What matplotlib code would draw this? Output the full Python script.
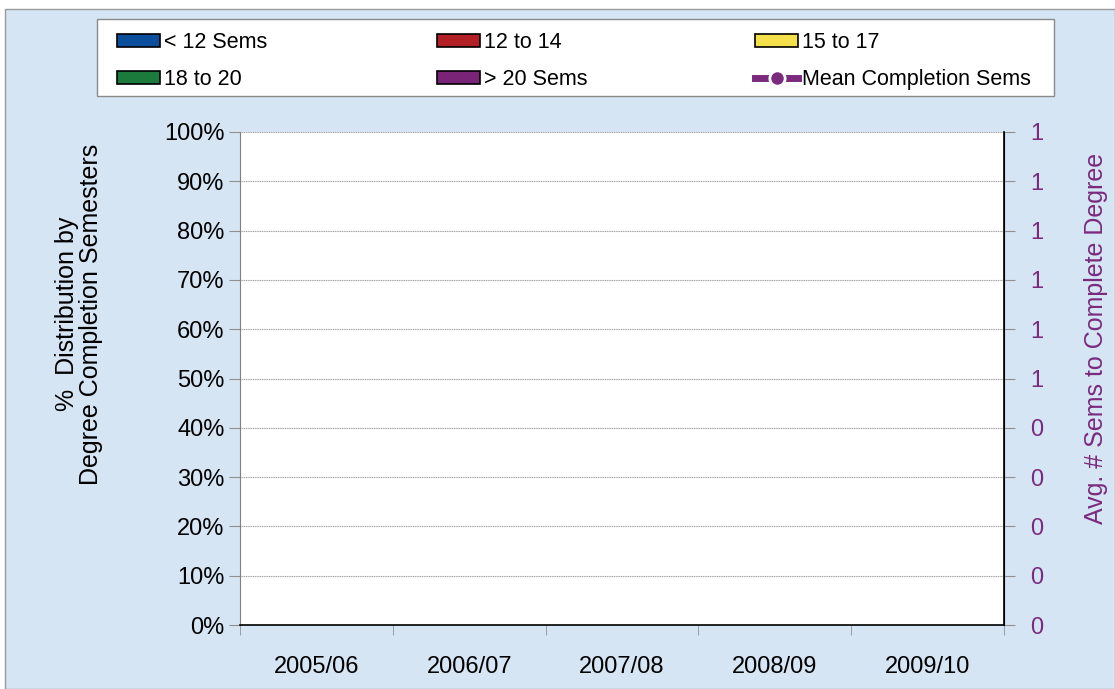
import numpy as np
import matplotlib
matplotlib.use("Agg")
import matplotlib.pyplot as plt
from matplotlib.patches import Patch, Rectangle
from matplotlib.lines import Line2D
from matplotlib.ticker import FixedLocator, FuncFormatter

plt.rcParams['font.family'] = ['Liberation Sans', 'DejaVu Sans']

# Data (the source chart has no values plotted)
years = ["2005/06", "2006/07", "2007/08", "2008/09", "2009/10"]
lt12 = [0, 0, 0, 0, 0]
s12_14 = [0, 0, 0, 0, 0]
s15_17 = [0, 0, 0, 0, 0]
s18_20 = [0, 0, 0, 0, 0]
gt20 = [0, 0, 0, 0, 0]
mean_sems = [np.nan, np.nan, np.nan, np.nan, np.nan]

series_names = ["< 12 Sems", "12 to 14", "15 to 17", "18 to 20", "> 20 Sems"]
series_colors = ["#0b4f9c", "#b21f24", "#f3e04a", "#1b7b3c", "#7a2478"]
line_color = "#7b2a7d"

W, H = 1115, 689
fig = plt.figure(figsize=(W / 100, H / 100), dpi=100)
fig.patch.set_facecolor("white")

# chart area background
fig.patches.append(Rectangle((5 / W, 0), 1 - 5 / W, 1 - 9 / H,
                             transform=fig.transFigure, facecolor="#d5e5f4",
                             edgecolor="#9a9a9a", linewidth=1.0, zorder=-10))

ax = fig.add_axes([240 / W, 64 / H, 764 / W, 493 / H])
ax.set_facecolor("white")

x = np.arange(len(years))
bottom = np.zeros(len(years))
for vals, col in zip([lt12, s12_14, s15_17, s18_20, gt20], series_colors):
    ax.bar(x, vals, width=0.6, bottom=bottom, color=col, linewidth=0)
    bottom += np.array(vals, dtype=float)

ax.set_xlim(-0.5, len(years) - 0.5)
ax.set_ylim(0, 1)
ax.yaxis.set_major_locator(FixedLocator(np.linspace(0, 1, 11)))
ax.yaxis.set_major_formatter(FuncFormatter(lambda v, p: f"{v * 100:.0f}%"))
ax.grid(axis="y", color="#a0a0a0", linewidth=0.8, linestyle=(0, (1, 0.6)))
ax.set_axisbelow(True)

ax.set_xticks(x)
ax.set_xticklabels(years)
ax.xaxis.set_minor_locator(FixedLocator(np.arange(-0.5, len(years), 1)))
ax.tick_params(axis="x", which="major", length=0, pad=22.5, labelsize=17)
ax.tick_params(axis="x", which="minor", length=7, color="#909090", direction="out")
ax.tick_params(axis="y", length=8, color="#909090", labelsize=17, pad=3)

ax.spines["left"].set_color("#808080")
ax.spines["top"].set_visible(False)
ax.spines["bottom"].set_color("black")
ax.spines["bottom"].set_linewidth(1.2)

fig.text(79 / W, 1 - 314 / H, "%  Distribution by\nDegree Completion Semesters",
         rotation=90, ha="center", va="center", fontsize=18, multialignment="center",
         linespacing=1.0)

ax2 = ax.twinx()
ax2.plot(x, mean_sems, color=line_color, marker="o", linewidth=3)
ax2.set_ylim(0, 1)
ax2.yaxis.set_major_locator(FixedLocator(np.linspace(0, 1, 11)))
ax2.yaxis.set_major_formatter(FuncFormatter(lambda v, p: str(int(np.floor(v + 0.5 + 1e-9)))))
ax2.tick_params(axis="y", length=8, color="#909090", labelsize=17, labelcolor=line_color, pad=11)
ax2.spines["right"].set_color("black")
ax2.spines["right"].set_linewidth(1.2)
ax2.spines["top"].set_visible(False)
ax2.spines["left"].set_visible(False)
ax2.spines["bottom"].set_visible(False)
fig.text(1096 / W, 1 - 338 / H, "Avg. # Sems to Complete Degree", rotation=90,
         ha="center", va="center", fontsize=18, color=line_color)

# legend: white box with three columns
fig.patches.append(Rectangle((97 / W, 1 - 96 / H), 957 / W, 77 / H,
                             transform=fig.transFigure, facecolor="white",
                             edgecolor="#8a8a8a", linewidth=1.0, zorder=-5))
handles = [Patch(facecolor=c, edgecolor="black", linewidth=1.2) for c in series_colors]
handles.append(Line2D([0], [0], color=line_color, marker="o", linewidth=5, markersize=11,
                      markeredgecolor="white", markeredgewidth=2.0))
labels = series_names + ["Mean Completion Sems"]
columns = [(0, 3), (1, 4), (2, 5)]
col_x = [117, 437, 755]
for cx, (a, b) in zip(col_x, columns):
    lg = fig.legend([handles[a], handles[b]], [labels[a], labels[b]],
                    loc="upper left", bbox_to_anchor=(cx / W, 1 - 32 / H),
                    fontsize=15.5, frameon=False, handlelength=2.0, handleheight=0.6,
                    handletextpad=0.2, borderpad=0, borderaxespad=0, labelspacing=0.75)

fig.savefig("out.png", dpi=100, facecolor=fig.get_facecolor())
